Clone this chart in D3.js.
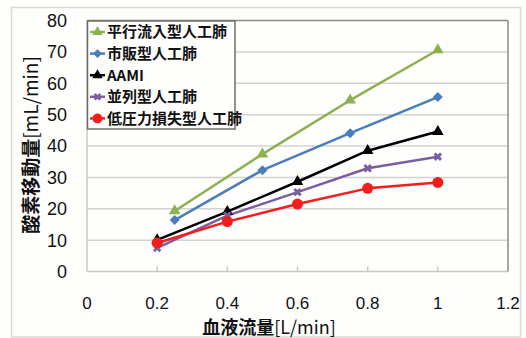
<!DOCTYPE html>
<html><head><meta charset="utf-8">
<script src="https://cdn.jsdelivr.net/npm/d3@7"></script>
<style>
html,body{margin:0;padding:0;background:#fefefc;}
svg{display:block;}
</style></head>
<body>
<svg id="c" width="526" height="338"></svg>
<script>
// ---- data ----
const seriesNames = ["平行流入型人工肺","市販型人工肺","AAMI","並列型人工肺","低圧力損失型人工肺"];
const xParallel = [0.25,0.5,0.75,1.0];
const yParallel = [19.3,37.4,54.6,70.6];
const xCommercial = [0.25,0.5,0.75,1.0];
const yCommercial = [16.4,32.3,44.1,55.6];
const xAAMI = [0.2,0.4,0.6,0.8,1.0];
const yAAMI = [10.1,19.1,28.6,38.5,44.6];
const xSeries = [0.2,0.4,0.6,0.8,1.0];
const ySeries = [7.5,17.8,25.3,32.9,36.6];
const xLowPress = [0.2,0.4,0.6,0.8,1.0];
const yLowPress = [9.1,15.9,21.5,26.5,28.4];
const xTicks = [0,0.2,0.4,0.6,0.8,1,1.2];
const yTicks = [0,10,20,30,40,50,60,70,80];
const xTitleMain = "血液流量", xTitleUnit = "[L/min]";
const yTitleMain = "酸素移動量", yTitleUnit = "[mL/min]";

const colors = ["#8db050","#4a7ebb","#000000","#7b5ea1","#f21d1d"];
const markers = ["triangle","diamond","triangle","star","circle"];
const data = [
  {x:xParallel,y:yParallel},
  {x:xCommercial,y:yCommercial},
  {x:xAAMI,y:yAAMI},
  {x:xSeries,y:ySeries},
  {x:xLowPress,y:yLowPress}
].map((d,i)=>({name:seriesNames[i],color:colors[i],marker:markers[i],pts:d.x.map((v,j)=>[v,d.y[j]])}));

const svg = d3.select("#c");
const L=87,R=508,T=20.5,B=271.5;
const x = d3.scaleLinear().domain([0,1.2]).range([L,R]);
const y = d3.scaleLinear().domain([0,80]).range([B,T]);
const latin = "'Liberation Sans', Arial, sans-serif";
const cjk = "'Noto Sans CJK JP', sans-serif";

// outer border
svg.append("rect").attr("x",11.5).attr("y",7.5).attr("width",509).attr("height",329.5)
  .attr("fill","#fefefc").attr("stroke","#d9d9d6").attr("stroke-width",1.5);

// gridlines
svg.append("g").selectAll("line").data(yTicks.filter(t=>t>0&&t<80)).join("line")
  .attr("x1",L).attr("x2",R).attr("y1",d=>y(d)).attr("y2",d=>y(d))
  .attr("stroke","#d4d2d0").attr("stroke-width",1.5);

svg.append("line").attr("x1",L).attr("x2",L).attr("y1",T).attr("y2",B).attr("stroke","#c8c8c6").attr("stroke-width",1.5);
svg.append("line").attr("x1",L).attr("x2",R).attr("y1",B).attr("y2",B).attr("stroke","#c8c8c6").attr("stroke-width",1.5);
svg.append("line").attr("x1",L).attr("x2",R).attr("y1",T).attr("y2",T).attr("stroke","#8a8a88").attr("stroke-width",1.5);
svg.append("line").attr("x1",R).attr("x2",R).attr("y1",T).attr("y2",B).attr("stroke","#8a8a88").attr("stroke-width",1.5);

// x tick marks
svg.append("g").selectAll("line").data(xTicks.filter(t=>t>0&&t<1.2)).join("line")
  .attr("x1",d=>x(d)).attr("x2",d=>x(d)).attr("y1",B-5).attr("y2",B)
  .attr("stroke","#c8c8c6").attr("stroke-width",1.5);

// y tick labels
svg.append("g").selectAll("text").data(yTicks).join("text")
  .attr("x",67).attr("y",d=>y(d)).attr("dy","0.36em").attr("text-anchor","end")
  .attr("font-family",latin).attr("font-size",18).attr("fill","#111")
  .text(d=>d);
// x tick labels
svg.append("g").selectAll("text").data(xTicks).join("text")
  .attr("x",d=>x(d)).attr("y",309).attr("text-anchor","middle")
  .attr("font-family",latin).attr("font-size",17).attr("fill","#111")
  .text(d=>d3.format("~g")(d));

// titles
const xt = svg.append("text").attr("x",269).attr("y",334).attr("text-anchor","middle")
  .attr("font-family",cjk).attr("font-size",18).attr("fill","#111");
xt.append("tspan").attr("font-weight",700).text(xTitleMain);
xt.append("tspan").attr("font-weight",400).text(xTitleUnit);
const yt = svg.append("text").attr("transform","translate(38,145) rotate(-90)").attr("text-anchor","middle")
  .attr("font-family",cjk).attr("font-size",19).attr("fill","#111");
yt.append("tspan").attr("font-weight",700).text(yTitleMain);
yt.append("tspan").attr("font-weight",400).text(yTitleUnit);

// marker generator
const diamondSym = {draw(ctx,size){const r=Math.sqrt(size/2);ctx.moveTo(0,-r);ctx.lineTo(r,0);ctx.lineTo(0,r);ctx.lineTo(-r,0);ctx.closePath();}};
function drawMarker(g, type, color, scale){
  let sym;
  if(type==="triangle") sym=d3.symbolTriangle;
  else if(type==="diamond") sym=diamondSym;
  else if(type==="star") sym=d3.symbolCross;
  else sym=d3.symbolCircle;
  const area = {triangle:58,diamond:50,star:45,circle:95}[type]*(scale||1);
  const p = g.append("path").attr("d",d3.symbol().type(sym).size(area)()).attr("fill",color);
  if(type==="star") p.attr("transform","rotate(45)");
  return p;
}

// lines
const line = d3.line().x(d=>x(d[0])).y(d=>y(d[1]));
const gSeries = svg.append("g");
data.forEach(s=>{
  gSeries.append("path").datum(s.pts).attr("d",line).attr("fill","none")
    .attr("stroke",s.color).attr("stroke-width",2.5).attr("stroke-linejoin","round");
});
data.forEach(s=>{
  s.pts.forEach(p=>{
    const g = gSeries.append("g").attr("transform",`translate(${x(p[0])},${y(p[1])})`);
    drawMarker(g, s.marker, s.color);
  });
});

// legend
const lg = svg.append("g");
lg.append("rect").attr("x",87.5).attr("y",21).attr("width",147.5).attr("height",108)
  .attr("fill","#fefefc").attr("stroke","#6e6e6c").attr("stroke-width",1.5);
data.forEach((s,i)=>{
  const yy = 32 + i*21.6;
  lg.append("line").attr("x1",90).attr("x2",105).attr("y1",yy).attr("y2",yy)
    .attr("stroke",s.color).attr("stroke-width",2.5);
  const g = lg.append("g").attr("transform",`translate(97.5,${yy})`);
  drawMarker(g, s.marker, s.color, 0.8);
  lg.append("text").attr("x",107).attr("y",yy).attr("dy","0.36em")
    .attr("font-family",cjk).attr("font-size",15).attr("font-weight",700).attr("fill","#111")
    .text(s.name);
});
</script>
</body></html>
